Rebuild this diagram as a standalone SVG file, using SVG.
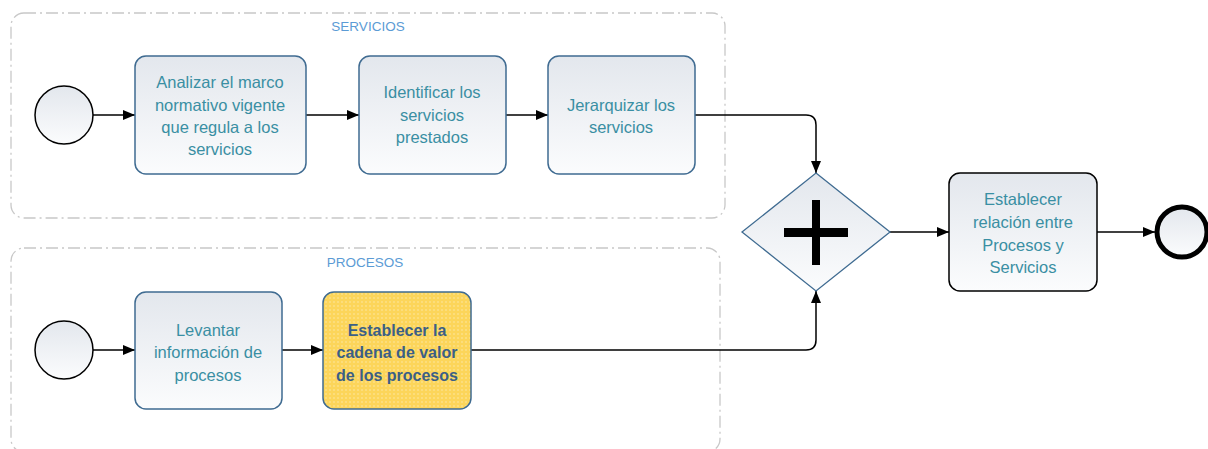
<svg xmlns="http://www.w3.org/2000/svg" width="1208" height="449" viewBox="0 0 1208 449">
<defs>
<linearGradient id="g" x1="0" y1="0" x2="0" y2="1"><stop offset="0" stop-color="#e3e7ed"/><stop offset="1" stop-color="#fbfcfd"/></linearGradient>
<pattern id="dots" width="4" height="4" patternUnits="userSpaceOnUse"><rect width="4" height="4" fill="#fcd55a"/><circle cx="2" cy="2" r="0.8" fill="#fee9a6"/></pattern>
<marker id="arr" markerWidth="12" markerHeight="10" refX="12" refY="5" orient="auto" markerUnits="userSpaceOnUse"><path d="M0,0 L12,5 L0,10 Z" fill="#000"/></marker>
<style>
.lane{fill:none;stroke:#c8c8c8;stroke-width:1.3;stroke-dasharray:12 4 2 4}
.lbl{font-family:"Liberation Sans",Calibri,sans-serif;font-size:13.5px;fill:#5b9bd5;text-anchor:middle}
.task{fill:url(#g);stroke:#3f6b91;stroke-width:1.5}
.t{font-family:"Liberation Sans",sans-serif;font-size:16.5px;fill:#3a8fa3;text-anchor:middle;dominant-baseline:central}
.tb{font-family:"Liberation Sans",sans-serif;font-size:16px;font-weight:bold;fill:#3b5f86;text-anchor:middle;dominant-baseline:central}
.ev{fill:url(#g);stroke:#000;stroke-width:1.5}
.c{fill:none;stroke:#000;stroke-width:1.5;marker-end:url(#arr)}
</style>
</defs>
<g id="lane-servicios"><rect class="lane" x="11" y="13" width="714" height="205" rx="13"/><text class="lbl" x="368" y="31">SERVICIOS</text></g>
<g id="lane-procesos"><rect class="lane" x="11" y="248" width="709" height="204" rx="13"/><text class="lbl" x="365" y="267">PROCESOS</text></g>
<g id="connectors">
<path class="c" d="M93,115 H135"/>
<path class="c" d="M306,115 H359"/>
<path class="c" d="M506,115 H548"/>
<path class="c" d="M695,115 H806 Q816,115 816,125 V173"/>
<path class="c" d="M93,350 H135"/>
<path class="c" d="M282,350 H323"/>
<path class="c" d="M471,350 H806 Q816,350 816,340 V291"/>
<path class="c" d="M890,232 H949"/>
<path class="c" d="M1097,232 H1155"/>
</g>
<g id="start1"><circle class="ev" cx="64" cy="115" r="29"/></g>
<g id="task1"><rect class="task" x="135" y="56" width="171" height="118" rx="11"/><text class="t" x="220" y="82">Analizar el marco</text><text class="t" x="220" y="105">normativo vigente</text><text class="t" x="220" y="127">que regula a los</text><text class="t" x="220" y="149">servicios</text></g>
<g id="task2"><rect class="task" x="359" y="56" width="147" height="118" rx="11"/><text class="t" x="432" y="92">Identificar los</text><text class="t" x="432" y="115">servicios</text><text class="t" x="432" y="137">prestados</text></g>
<g id="task3"><rect class="task" x="548" y="56" width="147" height="118" rx="11"/><text class="t" x="621" y="105">Jerarquizar los</text><text class="t" x="621" y="127">servicios</text></g>
<g id="start2"><circle class="ev" cx="64" cy="350" r="29"/></g>
<g id="task4"><rect class="task" x="135" y="292" width="147" height="117" rx="11"/><text class="t" x="208" y="330">Levantar</text><text class="t" x="208" y="352">información de</text><text class="t" x="208" y="375">procesos</text></g>
<g id="task5"><rect x="323" y="292" width="148" height="117" rx="11" fill="url(#dots)" stroke="#3f6b91" stroke-width="1.5"/><text class="tb" x="397" y="330">Establecer la</text><text class="tb" x="397" y="352">cadena de valor</text><text class="tb" x="397" y="375">de los procesos</text></g>
<g id="gateway"><path d="M816,173 L890,232 L816,291 L742,232 Z" fill="url(#g)" stroke="#3f6b91" stroke-width="1.3"/><rect x="812" y="200" width="8" height="65" fill="#000"/><rect x="784" y="228" width="64" height="9" fill="#000"/></g>
<g id="task6"><rect x="949" y="173" width="148" height="118" rx="11" fill="url(#g)" stroke="#000" stroke-width="1.5"/><text class="t" x="1023" y="199">Establecer</text><text class="t" x="1023" y="222">relación entre</text><text class="t" x="1023" y="245">Procesos y</text><text class="t" x="1023" y="267">Servicios</text></g>
<g id="end"><circle cx="1182" cy="232" r="25" fill="url(#g)" stroke="#000" stroke-width="5"/></g>
</svg>
